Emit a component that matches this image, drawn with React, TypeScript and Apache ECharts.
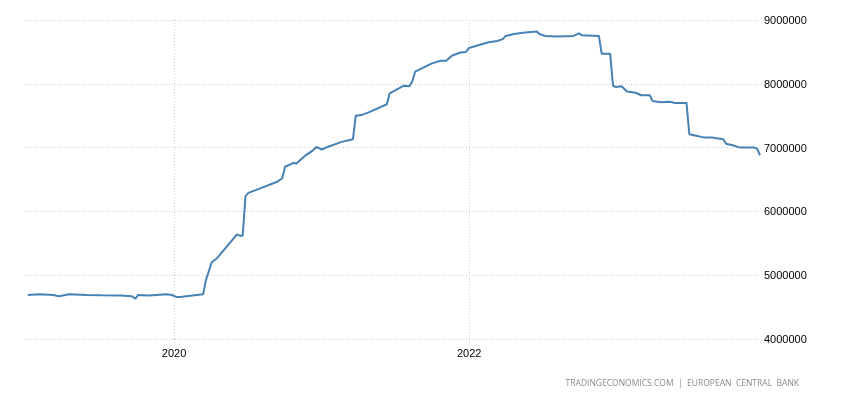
import React, { useEffect, useRef } from "react";
import * as echarts from "echarts";

const dates: string[] = [
  "2019-01-04", "2019-02-01", "2019-03-08", "2019-03-22", "2019-04-17", "2019-05-29",
  "2019-07-05", "2019-08-21", "2019-09-19", "2019-09-27", "2019-10-04", "2019-11-01",
  "2019-12-13", "2019-12-27", "2020-01-06", "2020-01-17", "2020-01-31", "2020-03-13",
  "2020-03-20", "2020-04-03", "2020-04-17", "2020-06-05", "2020-06-12", "2020-06-19",
  "2020-06-26", "2020-07-03", "2020-09-11", "2020-09-25", "2020-10-02", "2020-10-23",
  "2020-10-30", "2020-11-20", "2020-12-11", "2020-12-18", "2021-01-01", "2021-01-15",
  "2021-02-19", "2021-03-19", "2021-03-26", "2021-04-09", "2021-04-30", "2021-06-11",
  "2021-06-18", "2021-07-23", "2021-08-06", "2021-08-13", "2021-08-20", "2021-10-01",
  "2021-10-22", "2021-11-05", "2021-11-19", "2021-12-10", "2021-12-24", "2021-12-31",
  "2022-02-18", "2022-03-11", "2022-03-25", "2022-04-01", "2022-04-22", "2022-05-13",
  "2022-06-17", "2022-06-24", "2022-07-08", "2022-08-05", "2022-09-16", "2022-09-30",
  "2022-10-07", "2022-11-18", "2022-11-25", "2022-12-16", "2022-12-23", "2022-12-30",
  "2023-01-13", "2023-01-27", "2023-02-17", "2023-03-03", "2023-03-24", "2023-03-31",
  "2023-04-21", "2023-05-12", "2023-05-26", "2023-06-23", "2023-06-30", "2023-07-14",
  "2023-08-04", "2023-08-25", "2023-09-01", "2023-09-22", "2023-09-29", "2023-10-13",
  "2023-11-03", "2023-12-08", "2023-12-15", "2023-12-22",
];

const totalAssets: number[] = [
  4690000, 4700000, 4690000, 4670000, 4700000, 4690000,
  4685000, 4680000, 4670000, 4630000, 4690000, 4680000,
  4700000, 4690000, 4660000, 4660000, 4670000, 4700000,
  4920000, 5200000, 5270000, 5640000, 5620000, 5620000,
  6240000, 6290000, 6460000, 6520000, 6700000, 6760000,
  6750000, 6870000, 6960000, 7010000, 6970000, 7010000,
  7090000, 7130000, 7500000, 7510000, 7560000, 7680000,
  7850000, 7970000, 7960000, 8040000, 8190000, 8320000,
  8360000, 8360000, 8440000, 8490000, 8500000, 8560000,
  8650000, 8670000, 8700000, 8750000, 8780000, 8800000,
  8820000, 8780000, 8750000, 8740000, 8750000, 8790000,
  8760000, 8750000, 8470000, 8470000, 7970000, 7950000,
  7960000, 7880000, 7860000, 7820000, 7820000, 7730000,
  7710000, 7720000, 7700000, 7700000, 7210000, 7190000,
  7160000, 7160000, 7150000, 7130000, 7060000, 7040000,
  7000000, 7000000, 6980000, 6880000,
];

const xTickDates: string[] = ["2020-01-01", "2022-01-01"];
const yTicks: number[] = [4000000, 5000000, 6000000, 7000000, 8000000, 9000000];
const xRange: string[] = ["2018-12-28", "2023-12-22"];
const sourceText = "TRADINGECONOMICS.COM  |  EUROPEAN  CENTRAL  BANK";

const toTime = (d: string) => new Date(d + "T00:00:00Z").getTime();

export default function App() {
  const ref = useRef<HTMLDivElement>(null);

  useEffect(() => {
    if (!ref.current) return;
    const chart = echarts.init(ref.current, null, { renderer: "svg" });
    const tickTimes = xTickDates.map(toTime);
    chart.setOption({
      animation: false,
      grid: { left: 25, right: 90, top: 20, bottom: 61, containLabel: false },
      xAxis: {
        type: "value",
        min: toTime(xRange[0]),
        max: toTime(xRange[1]),
        axisLine: { show: false },
        axisTick: {
          show: true,
          customValues: tickTimes,
          length: 4,
          lineStyle: { color: "#cccccc", type: [1, 2] },
        },
        axisLabel: {
          customValues: tickTimes,
          formatter: (v: number) => String(new Date(v).getUTCFullYear()),
          color: "#000",
          fontFamily: "Liberation Sans, Arial, sans-serif",
          fontSize: 11,
          margin: 8,
        },
        splitLine: {
          show: true,
          lineStyle: { color: "#cccccc", type: [1, 2], width: 1 },
        },
      },
      yAxis: {
        type: "value",
        position: "right",
        min: yTicks[0],
        max: yTicks[yTicks.length - 1],
        interval: yTicks[1] - yTicks[0],
        axisLine: { show: false },
        axisTick: { show: false },
        axisLabel: {
          color: "#000",
          fontFamily: "Liberation Sans, Arial, sans-serif",
          fontSize: 11,
          margin: 4,
          formatter: (v: number) => String(v),
        },
        splitLine: {
          show: true,
          lineStyle: { color: "#cccccc", type: [1, 2], width: 1 },
        },
      },
      series: [
        {
          type: "line",
          data: dates.map((d, i) => [toTime(d), totalAssets[i]]),
          showSymbol: false,
          symbol: "none",
          lineStyle: { color: "#4682b4", width: 2 },
          itemStyle: { color: "#4682b4" },
        },
      ],
      graphic: [
        {
          type: "text",
          right: 51,
          top: 378,
          style: {
            text: sourceText,
            fill: "#8a8a8a",
            fontSize: 8.5,
            fontFamily: "Open Sans, Liberation Sans, sans-serif",
          },
        },
      ],
    });
    return () => chart.dispose();
  }, []);

  return (
    <div
      ref={ref}
      style={{ position: "fixed", left: 0, top: 0, width: 850, height: 400 }}
    />
  );
}
